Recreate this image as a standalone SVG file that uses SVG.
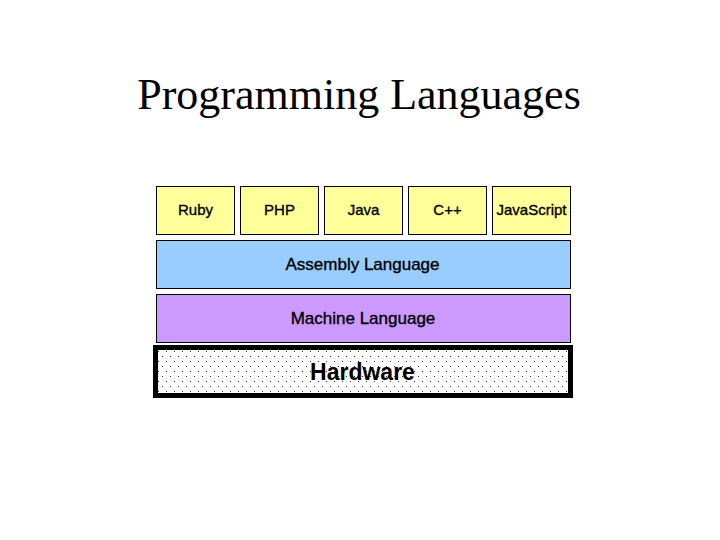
<svg xmlns="http://www.w3.org/2000/svg" width="720" height="540" viewBox="0 0 720 540">
<defs>
<pattern id="dots" width="8" height="10" patternUnits="userSpaceOnUse" x="157" y="350">
<rect x="0" y="0" width="8" height="10" fill="#ffffff"/>
<rect x="1" y="1" width="1" height="1" fill="#333333"/>
<rect x="5" y="6" width="1" height="1" fill="#333333"/>
</pattern>
</defs>
<style>
.box{stroke:#000;stroke-width:1}
.lang{fill:#ffff99}
.asm{fill:#99ccff}
.mach{fill:#cc99ff}
.lbl{font-family:"Liberation Sans",Arial,sans-serif;text-anchor:middle;fill:#000;stroke:#000;stroke-width:0.35}
.hw{font-family:"Liberation Sans",Arial,sans-serif;font-weight:bold;text-anchor:middle;fill:#000}
.title{font-family:"Liberation Serif","Times New Roman",serif;font-size:44px;text-anchor:middle;fill:#000}
</style>
<rect width="720" height="540" fill="#ffffff"/>
<text class="title" x="359" y="109">Programming Languages</text>
<g id="ruby"><rect class="box lang" x="156.5" y="186.5" width="78" height="48"/><text class="lbl" x="195.5" y="215" font-size="15">Ruby</text></g>
<g id="php"><rect class="box lang" x="240.5" y="186.5" width="78" height="48"/><text class="lbl" x="279.5" y="215" font-size="15">PHP</text></g>
<g id="java"><rect class="box lang" x="324.5" y="186.5" width="78" height="48"/><text class="lbl" x="363.5" y="215" font-size="15">Java</text></g>
<g id="cpp"><rect class="box lang" x="408.5" y="186.5" width="78" height="48"/><text class="lbl" x="447.5" y="215" font-size="15">C++</text></g>
<g id="javascript"><rect class="box lang" x="492.5" y="186.5" width="78" height="48"/><text class="lbl" x="531.5" y="215" font-size="15">JavaScript</text></g>
<g id="assembly"><rect class="box asm" x="156.5" y="240.5" width="414" height="48"/><text class="lbl" x="362.5" y="270" font-size="17">Assembly Language</text></g>
<g id="machine"><rect class="box mach" x="156.5" y="294.5" width="414" height="48"/><text class="lbl" x="363" y="324" font-size="17">Machine Language</text></g>
<g id="hardware"><rect x="155.5" y="347.5" width="415" height="48" fill="url(#dots)" stroke="#000" stroke-width="5"/><text class="hw" x="362.5" y="380" font-size="23">Hardware</text></g>
<g id="connectors"></g>
</svg>
